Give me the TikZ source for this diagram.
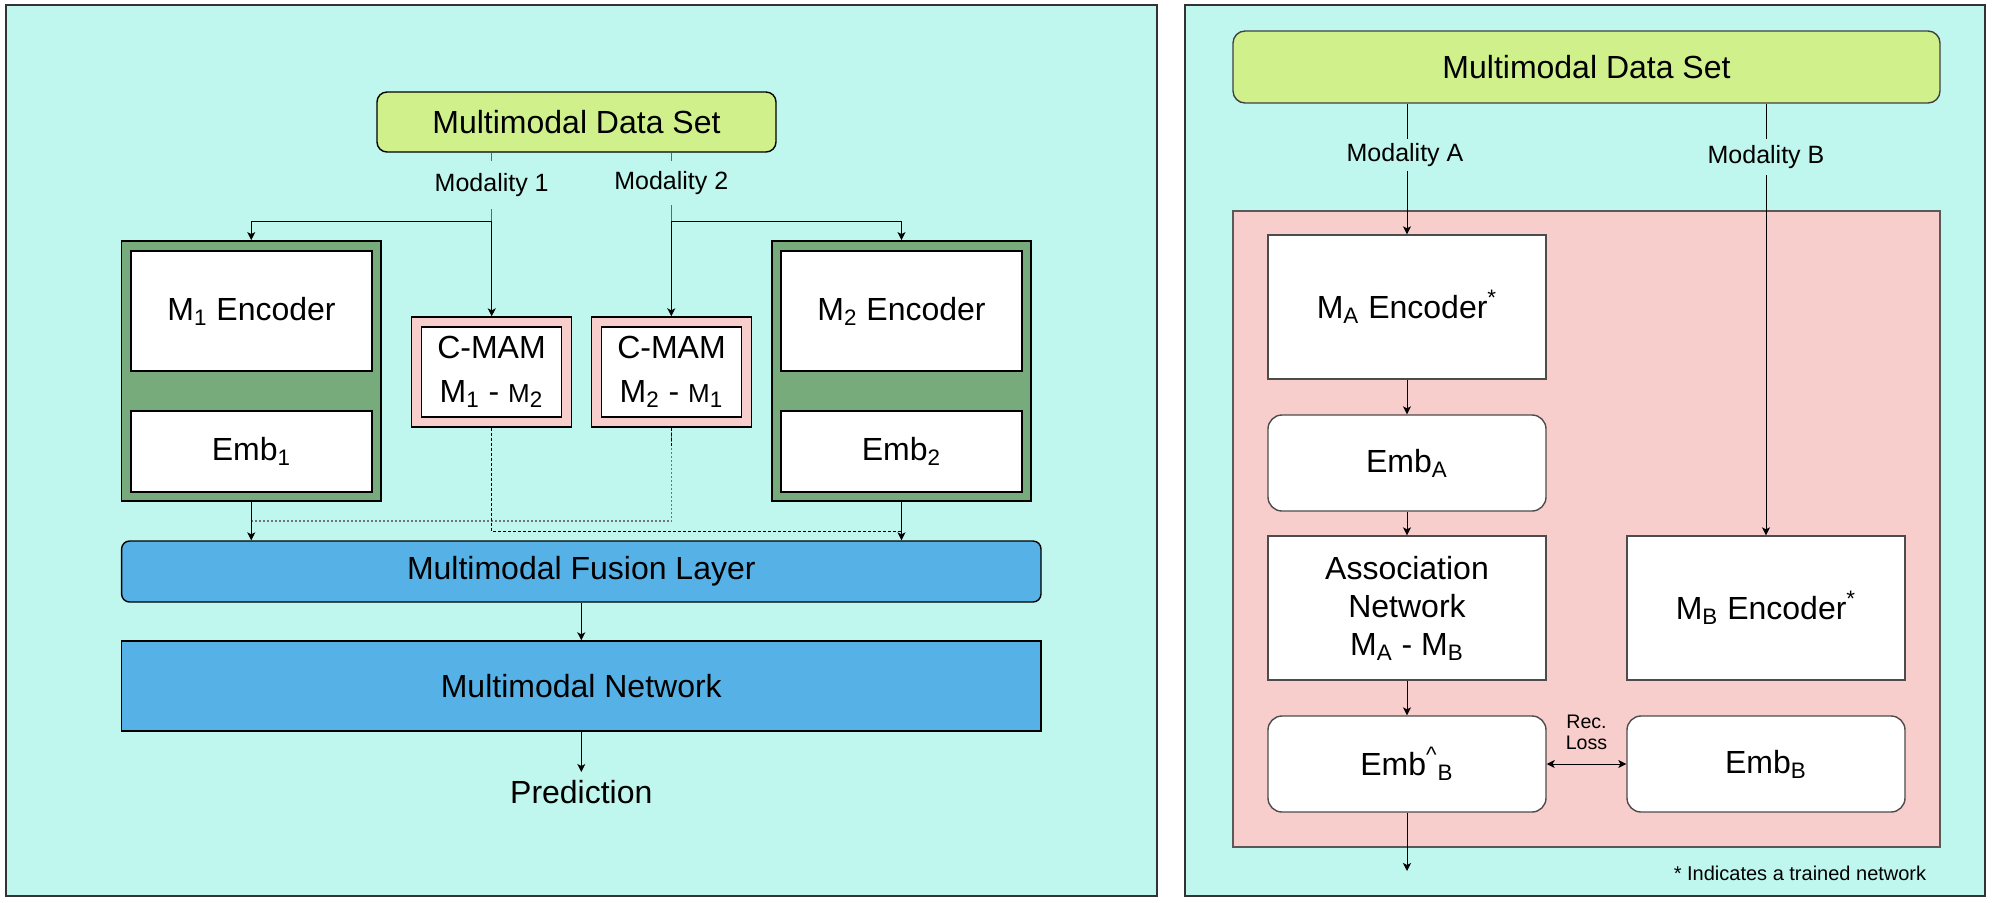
\documentclass[tikz,border=0pt]{standalone}
\usepackage{fontspec}
\setmainfont{Liberation Sans}
\usetikzlibrary{arrows.meta}
\definecolor{bgcyan}{RGB}{191,247,238}
\definecolor{limeg}{RGB}{208,240,140}
\definecolor{darkg}{RGB}{120,171,123}
\definecolor{pinkc}{RGB}{248,206,204}
\definecolor{bluec}{RGB}{86,178,230}
\newcommand{\fsz}[2]{\fontsize{#1}{#2}\selectfont}
\begin{document}
\begin{tikzpicture}[x=0.5pt,y=-0.5pt,
  panel/.style={draw=black!80, line width=1.2pt, fill=bgcyan, inner sep=0pt},
  box/.style={draw=black, line width=0.7pt, inner sep=0pt, align=center, font=\fsz{16}{19}},
  wbox/.style={box, fill=white},
  rwbox/.style={wbox, rounded corners=7pt, draw=black!70},
  sqwbox/.style={wbox, draw=black!70},
  lbl/.style={fill=bgcyan, inner sep=0pt, font=\fsz{12.5}{15}},
  conn/.style={line width=0.5pt, draw=black},
  arr/.style={conn, -{Stealth[length=4pt,width=4pt,inset=1pt]}},
  darr/.style={conn, {Stealth[length=4pt,width=4pt,inset=1pt]}-{Stealth[length=4pt,width=4pt,inset=1pt]}},
  dashedline/.style={line width=0.5pt, draw=black, dash pattern=on 1.5pt off 1pt},
  dotline/.style={line width=0.7pt, draw=black!55, dash pattern=on 1pt off 1pt}
]
\useasboundingbox (0,0) rectangle (1992,902);

% ===== Left panel =====
\node[panel, minimum width=575.5pt, minimum height=445.5pt] (panelL) at (581.5,450.5) {};

\node[box, fill=limeg, rounded corners=5pt, minimum width=199.5pt, minimum height=30pt] (dataL) at (576.5,122) {Multimodal Data Set};

\node[box, fill=darkg, line width=0.9pt, minimum width=129.75pt, minimum height=130pt] (greenL) at (251.25,371) {};
\node[wbox, minimum width=120.5pt, minimum height=60pt] (enc1) at (251.5,311) {M\textsubscript{1} Encoder};
\node[wbox, minimum width=120.5pt, minimum height=40.5pt] (emb1) at (251.5,451.5) {Emb\textsubscript{1}};

\node[box, fill=darkg, line width=0.9pt, minimum width=129.75pt, minimum height=130pt] (greenR) at (901.5,371) {};
\node[wbox, minimum width=120.5pt, minimum height=60pt] (enc2) at (901.5,311) {M\textsubscript{2} Encoder};
\node[wbox, minimum width=120.5pt, minimum height=40.5pt] (emb2) at (901.5,451.5) {Emb\textsubscript{2}};

\node[box, fill=pinkc, minimum width=80pt, minimum height=55pt] (cmam1) at (491.7,372) {};
\node[wbox, minimum width=70pt, minimum height=45pt, font=\fsz{16}{22}] (cmam1in) at (491.5,372) {C-MAM\\M\textsubscript{1} - {\fsz{13}{16}M}\textsubscript{2}};
\node[box, fill=pinkc, minimum width=80pt, minimum height=55pt] (cmam2) at (671.3,372) {};
\node[wbox, minimum width=70pt, minimum height=45pt, font=\fsz{16}{22}] (cmam2in) at (671.5,372) {C-MAM\\M\textsubscript{2} - {\fsz{13}{16}M}\textsubscript{1}};

\node[box, fill=bluec, rounded corners=4pt, minimum width=459.7pt, minimum height=30.5pt] (fusion) at (581.3,571.5) {Multimodal Fusion Layer};
\node[box, fill=bluec, minimum width=459.7pt, minimum height=45pt] (net) at (581.3,686) {Multimodal Network};
\node[inner sep=0pt, font=\fsz{16}{19}] (pred) at (581.3,792) {Prediction};
\coordinate (predtop) at (581.3,772);

\coordinate (b1) at (491.7,221);
\coordinate (b2) at (671.3,221);
\coordinate (d1) at (901.5,531);
\coordinate (d2) at (251.25,521);

\draw[conn, draw=black!60] (dataL.south -| b1) -- (b1);
\draw[conn, draw=black!60] (dataL.south -| b2) -- (b2);
\draw[arr] (b1) -- (cmam1.north);
\draw[arr] (b1) -| (greenL.north);
\draw[arr] (b2) -- (cmam2.north);
\draw[arr] (b2) -| (greenR.north);
\node[lbl, minimum height=24pt] (mod1) at (491.7,185) {Modality 1};
\node[lbl, minimum height=22pt] (mod2) at (671.3,183) {Modality 2};

\draw[dotline] (cmam2.south) |- (d2);
\draw[dashedline] (cmam2.south) -- ++(0,20);
\draw[dashedline] (cmam1.south) |- (d1);
\draw[arr] (greenL.south) -- (greenL.south |- fusion.north);
\draw[arr] (greenR.south) -- (greenR.south |- fusion.north);
\draw[arr] (fusion.south) -- (net.north);
\draw[arr] (net.south) -- (predtop);

% ===== Right panel =====
\node[panel, minimum width=400pt, minimum height=445.5pt] (panelR) at (1585,450.5) {};

\node[box, fill=limeg, draw=black!75, rounded corners=6pt, minimum width=353.5pt, minimum height=36pt] (dataR) at (1586.5,67) {Multimodal Data Set};
\node[box, fill=pinkc, draw=black!65, line width=0.8pt, minimum width=353.5pt, minimum height=318pt] (pinkR) at (1586.5,529) {};

\node[sqwbox, minimum width=139pt, minimum height=72pt] (encA) at (1407,307) {M\textsubscript{A} Encoder\textsuperscript{*}};
\node[rwbox, minimum width=139pt, minimum height=48pt] (embA) at (1407,463) {Emb\textsubscript{A}};
\node[sqwbox, minimum width=139pt, minimum height=72pt] (assoc) at (1407,608) {Association\\Network\\M\textsubscript{A} - M\textsubscript{B}};
\node[sqwbox, minimum width=139pt, minimum height=72pt] (encB) at (1766,608) {M\textsubscript{B} Encoder\textsuperscript{*}};
\node[rwbox, minimum width=139pt, minimum height=48pt] (embhatB) at (1407,764) {Emb\textsuperscript{\textasciicircum}\textsubscript{B}};
\node[rwbox, minimum width=139pt, minimum height=48pt] (embB) at (1766,764) {Emb\textsubscript{B}};

\coordinate (outA) at (1407,871);
\draw[arr] (dataR.south -| encA.north) -- (encA.north);
\draw[arr] (dataR.south -| encB.north) -- (encB.north);
\node[lbl, minimum height=16pt] (modA) at (1405,155) {Modality A};
\node[lbl, minimum height=18pt] (modB) at (1766,157) {Modality B};

\draw[arr] (encA.south) -- (embA.north);
\draw[arr] (embA.south) -- (assoc.north);
\draw[arr] (assoc.south) -- (embhatB.north);
\draw[arr] (embhatB.south) -- (outA);
\draw[darr] (embhatB.east) -- (embB.west);
\node[inner sep=0pt, align=center, font=\fsz{9.8}{10.5}] (rec) at (1586.5,732) {Rec.\\Loss};

\node[inner sep=0pt, font=\fsz{10}{12}] (note) at (1800,873) {* Indicates a trained network};
\end{tikzpicture}
\end{document}
